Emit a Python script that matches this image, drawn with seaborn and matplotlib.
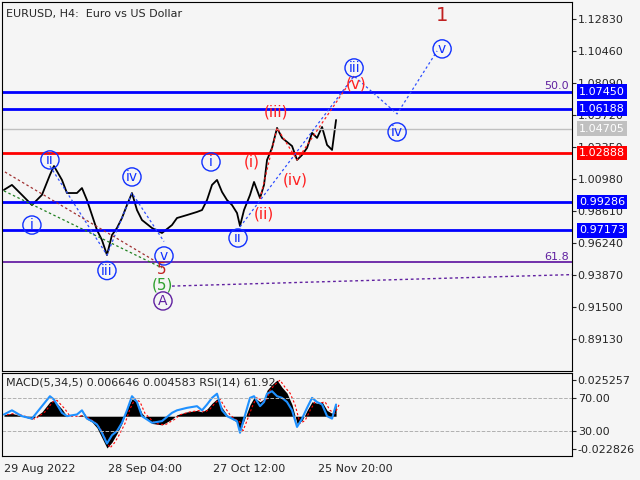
import matplotlib
matplotlib.use("Agg")
import matplotlib.pyplot as plt
import matplotlib.transforms as mtrans
import seaborn as sns
import numpy as np
import pandas as pd

sns.set_style("white")
plt.rcParams['font.family'] = ['DejaVu Sans']

bars = [2,10,20,30,40,48,52,60,65,75,80,85,90,95,100,105,110,115,120,125,
        130,135,140,150,160,170,175,185,195,200,205,210,215,220,225,230,235,238,242,248,
        252,258,262,265,270,275,280,285,290,295,300,305,310,315,320,325,330,334]
close = [1.0017,1.0054,0.9980,0.9905,0.9980,1.0128,1.0194,1.0091,0.9994,0.9994,
         1.0031,0.9942,0.9831,0.9720,0.9646,0.9535,0.9683,0.9735,0.9809,0.9905,
         0.9994,0.9868,0.9794,0.9735,0.9698,0.9757,0.9809,0.9831,0.9854,0.9868,
         0.9942,1.0054,1.0091,1.0002,0.9942,0.9905,0.9846,0.9750,0.9868,0.9980,
         1.0076,0.9957,1.0054,1.0239,1.0328,1.0476,1.0402,1.0372,1.0342,1.0239,
         1.0276,1.0328,1.0439,1.0402,1.0483,1.0350,1.0313,1.0535]
rsi = [50,55,48,45,60,72,68,52,48,50, 55,45,42,38,28,15,25,30,40,55,
       72,65,48,40,42,52,55,58,60,55, 62,70,75,55,48,45,42,28,45,70,
       72,60,65,75,78,72,70,65,55,35, 45,58,70,65,62,48,45,62]
macd = [1,2,0,-2,3,10,11,5,0,0, 1,-2,-4,-8,-15,-22,-18,-12,-5,5,
        12,10,2,-5,-6,-2,1,3,4,3, 5,9,12,6,1,-2,-4,-10,-3,8,
        13,10,12,18,22,25,20,16,8,-5, -3,4,10,9,10,4,2,8]  # x 1e-3

levels = [1.07450, 1.06188, 1.04705, 1.02888, 0.99286, 0.97173]
level_colors = ['#0000ff', '#0000ff', '#c0c0c0', '#ff0000', '#0000ff', '#0000ff']
fib_level = 0.9483
axis_ticks = [1.12830,1.10460,1.08090,1.05720,1.03350,1.00980,0.98610,0.96240,0.93870,0.91500,0.89130]
date_pos = [2, 106, 211, 316]
date_labels = ['29 Aug 2022', '28 Sep 04:00', '27 Oct 12:00', '25 Nov 20:00']

blue_labels = [('i',30,0.9757),('ii',48,1.0239),('iii',105,0.9420),('iv',130,1.0113),('v',162,0.9528),
               ('i',209,1.0224),('ii',236,0.9661),('iii',352,1.0920),('iv',395,1.0446),('v',440,1.1061)]
red_labels = [('(i)',250,1.0224),('(ii)',262,0.9839),('(iii)',274,1.0594),('(iv)',293,1.0091),('(v)',354,1.0802)]
blue_path_x = [238,352,395,435]
blue_path_y = [0.9743,1.0860,1.0580,1.1046]
blue_path2_x = [48,105,130,162]
blue_path2_y = [1.0194,0.9535,0.9994,0.9635]
red_path_x = [258,275,295,352]
red_path_y = [0.9950,1.0476,1.0239,1.0860]
red_trend_x = [3,160]
red_trend_y = [1.0150,0.9460]
green_x = [2,160]
green_y = [1.0010,0.9440]
purple_x = [170,570]
purple_y = [0.9305,0.9390]

BG = '#f5f5f5'
fig = plt.figure(figsize=(6.4,4.8), dpi=100, facecolor=BG)
ax = fig.add_axes([0.003,0.227,0.891,0.769], facecolor=BG)
ax2 = fig.add_axes([0.003,0.05,0.891,0.173], facecolor=BG)

df = pd.DataFrame({'bar':bars,'close':close,'rsi':rsi,'macd':np.array(macd)*1e-3})
sns.lineplot(data=df, x='bar', y='close', ax=ax, color='black', lw=1.3)
ax.set_xlim(0,570); ax.set_ylim(0.8676,1.14089)
for lv,c in zip(levels, level_colors):
    ax.axhline(lv, color=c, lw=2 if c!='#c0c0c0' else 1)
ax.axhline(fib_level, color='#5b0f9e', lw=1.2)
ax.plot(blue_path_x, blue_path_y, ls=(0,(2,2)), color='#3050ff', lw=0.9)
ax.plot(blue_path2_x, blue_path2_y, ls=(0,(2,2)), color='#3050ff', lw=0.9)
ax.plot(red_path_x, red_path_y, ls=(0,(2,2)), color='#ff2020', lw=0.9)
ax.plot(red_trend_x, red_trend_y, ls=(0,(2,2)), color='#a03030', lw=0.9)
ax.plot(green_x, green_y, ls=(0,(2,2)), color='#208020', lw=0.9)
ax.plot(purple_x, purple_y, ls=(0,(2,2)), color='#6020a0', lw=1)
for t,x,y in blue_labels:
    ax.text(x,y,t,color='#1030ff',fontsize=10,ha='center',va='center',
            bbox=dict(boxstyle='circle,pad=0.15',fc='none',ec='#1030ff',lw=1))
for t,x,y in red_labels:
    ax.text(x,y,t,color='#ff2020',fontsize=11,ha='center',va='center')
ax.text(440,1.1310,'1',color='#c02020',fontsize=14,ha='center',va='center')
ax.text(160,0.9430,'5',color='#c02020',fontsize=11,ha='center',va='center')
ax.text(160,0.9310,'(5)',color='#30a030',fontsize=11,ha='center',va='center')
ax.text(161,0.9195,'A',color='#6020a0',fontsize=10,ha='center',va='center',
        bbox=dict(boxstyle='circle,pad=0.15',fc='none',ec='#6020a0',lw=1))
ax.text(567,1.0790,'50.0',color='#6020a0',fontsize=8,ha='right',va='center')
ax.text(567,0.9520,'61.8',color='#6020a0',fontsize=8,ha='right',va='center')
ax.text(4,1.1320,'EURUSD, H4:  Euro vs US Dollar',fontsize=8,va='center')

ax.yaxis.tick_right()
ax.set_yticks(axis_ticks)
ax.set_yticklabels([f'{v:.5f}' for v in axis_ticks], fontsize=8)
ax.tick_params(axis='y', length=3, pad=1)
ax.set_xticks([]); ax.set_xlabel(''); ax.set_ylabel('')
tr = mtrans.blended_transform_factory(ax.transAxes, ax.transData)
for lv,c in zip(levels, level_colors):
    ax.text(1.012, lv, f'{lv:.5f}', transform=tr, color='white', fontsize=8, va='center',
            bbox=dict(boxstyle='square,pad=0.2', fc=c, ec='none'))
for sp in ax.spines.values(): sp.set_color('black'); sp.set_linewidth(0.8)

# indicator
to_u = lambda m: 47.9 + m/0.000575
ax2.fill_between(df['bar'], 47.9, to_u(df['macd']), color='black', lw=0)
ax2.plot(np.array(bars)+3, to_u(df['macd']), ls=(0,(2,2)), color='red', lw=0.8)
sns.lineplot(data=df, x='bar', y='rsi', ax=ax2, color='#1e90ff', lw=1.5)
ax2.axhline(70, color='#b0b0b0', ls='--', lw=0.7)
ax2.axhline(30, color='#b0b0b0', ls='--', lw=0.7)
ax2.set_xlim(0,570); ax2.set_ylim(0,100)
ax2.yaxis.tick_right()
ax2.set_yticks([91.8,70,30,8.2])
ax2.set_yticklabels(['0.025257','70.00','30.00','-0.022826'], fontsize=8)
ax2.tick_params(axis='y', length=3, pad=1)
ax2.set_xticks(date_pos)
ax2.set_xticklabels(date_labels, fontsize=8, ha='left')
ax2.tick_params(axis='x', length=4, pad=2)
ax2.set_xlabel(''); ax2.set_ylabel('')
ax2.text(4,88,'MACD(5,34,5) 0.006646 0.004583 RSI(14) 61.92',fontsize=8,va='center')
for sp in ax2.spines.values(): sp.set_color('black'); sp.set_linewidth(0.8)

fig.savefig('out.png', dpi=100, facecolor=BG)
